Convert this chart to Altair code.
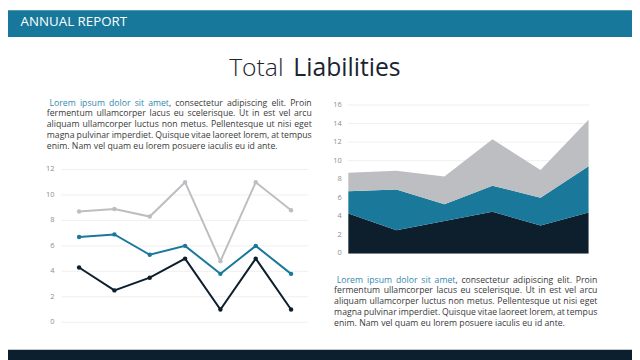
import altair as alt
import pandas as pd

# ---------------- data ----------------
series = ["Series 1", "Series 2", "Series 3"]
series_colors = ["#0D1F2D", "#1A789B", "#BDBEC2"]

line_x = [0, 1, 2, 3, 4, 5, 6]
line_s1 = [4.3, 2.5, 3.5, 5.0, 1.0, 5.0, 1.0]
line_s2 = [6.7, 6.9, 5.3, 6.0, 3.8, 6.0, 3.8]
line_s3 = [8.7, 8.9, 8.3, 11.0, 4.8, 11.0, 8.8]

area_x = [0, 1, 2, 3, 4, 5]
area_s1 = [4.3, 2.5, 3.5, 4.5, 3.0, 4.4]
area_s2 = [2.4, 4.4, 1.8, 2.8, 3.0, 5.0]
area_s3 = [2.0, 2.0, 3.0, 5.0, 3.0, 5.0]

line_ticks = [0, 2, 4, 6, 8, 10, 12]
area_ticks = [0, 2, 4, 6, 8, 10, 12, 14, 16]

header_text = "ANNUAL REPORT"
title_light = "Total"
title_bold = "Liabilities"
para_lead = "Lorem ipsum dolor sit amet"
para_lines = [
    "Lorem ipsum dolor sit amet, consectetur adipiscing elit. Proin",
    "fermentum ullamcorper lacus eu scelerisque. Ut in est vel arcu",
    "aliquam ullamcorper luctus non metus. Pellentesque ut nisi eget",
    "magna pulvinar imperdiet. Quisque vitae laoreet lorem, at tempus",
    "enim. Nam vel quam eu lorem posuere iaculis eu id ante.",
]

# ---------------- helpers ----------------
W, H = 632, 352
FONT = "Open Sans"
TEXT_DARK = "#3A3A3A"
TEAL_TEXT = "#3489AE"
GRID = "#EFEFEF"
TICK = "#8C8C8C"
PFS = 8.8

# approximate Open Sans advance widths (units per 2048 em)
CW = {" ": 532, "a": 1139, "b": 1255, "c": 975, "d": 1255, "e": 1149, "f": 694, "g": 1122,
      "h": 1257, "i": 518, "j": 518, "k": 1075, "l": 518, "m": 1905, "n": 1257, "o": 1237,
      "p": 1255, "q": 1255, "r": 836, "s": 977, "t": 723, "u": 1257, "v": 1026, "w": 1593,
      "x": 1073, "y": 1028, "z": 977, ",": 498, ".": 545, "L": 1100, "P": 1255, "U": 1499,
      "Q": 1599, "N": 1608}


def tw(s):
    return sum(CW.get(c, 1150) for c in s) / 2048 * PFS


def layout(x_left, x_right, y0):
    rows = []
    lead_words = para_lead.split(" ")
    for i, line in enumerate(para_lines):
        y = y0 + 10.95 * i
        xl = x_left + (2.7 if i == 0 else 0)
        words = line.split(" ")
        widths = [tw(w) for w in words]
        last = i == len(para_lines) - 1
        if last:
            gap = tw(" ")
        else:
            gap = (x_right - xl - sum(widths)) / (len(words) - 1)
        x = xl
        for j, (w, wd) in enumerate(zip(words, widths)):
            if i == 0 and j < len(lead_words):
                core = w.rstrip(",")
                rows.append({"text": core, "px": x, "py": y, "c": TEAL_TEXT})
                if core != w:
                    rows.append({"text": w[len(core):], "px": x + tw(core), "py": y, "c": TEXT_DARK})
            else:
                rows.append({"text": w, "px": x, "py": y, "c": TEXT_DARK})
            x += wd + gap
    return pd.DataFrame(rows)


one = pd.DataFrame({"a": [0]})
base = alt.Chart(one)

line_df = pd.DataFrame({
    "x": line_x * 3,
    "v": line_s1 + line_s2 + line_s3,
    "s": [series[0]] * 7 + [series[1]] * 7 + [series[2]] * 7,
})
area_df = pd.DataFrame({
    "x": area_x * 3,
    "v": area_s1 + area_s2 + area_s3,
    "s": [series[0]] * 6 + [series[1]] * 6 + [series[2]] * 6,
    "k": [0] * 6 + [1] * 6 + [2] * 6,
})

color = alt.Color("s:N", scale=alt.Scale(domain=series, range=series_colors), legend=None)

LX = alt.Scale(domain=[0, 6], range=[72, 286.7], nice=False, zero=False)
LY = alt.Scale(domain=[0, 12], range=[316, 161.3], nice=False, zero=False)
AX = alt.Scale(domain=[0, 5], range=[344.7, 588], nice=False, zero=False)
AY = alt.Scale(domain=[0, 16], range=[246.3, 96], nice=False, zero=False)

layers = []

# header / footer bars
layers.append(base.mark_rect(color="#17789C").encode(
    x=alt.value(0), x2=alt.value(W), y=alt.value(0), y2=alt.value(27)))
layers.append(base.mark_rect(color="#0B1F2E").encode(
    x=alt.value(0), x2=alt.value(W), y=alt.value(344), y2=alt.value(W)))
layers.append(base.mark_text(text=header_text, font=FONT, fontSize=13.5, color="white",
                             align="left", baseline="alphabetic").encode(
    x=alt.value(12.7), y=alt.value(16)))

# title
layers.append(base.mark_text(text=title_light, font=FONT, fontSize=25, fontWeight=300,
                             color="#1B2430", align="right", baseline="alphabetic").encode(
    x=alt.value(279), y=alt.value(66.3)))
layers.append(base.mark_text(text=title_bold, font=FONT, fontSize=25, fontWeight=500,
                             color="#1B2430", align="left", baseline="alphabetic").encode(
    x=alt.value(289), y=alt.value(66.3)))

# justified paragraphs
for para_df in (layout(39.3, 307.7, 93.6), layout(330.3, 597, 272.8)):
    layers.append(alt.Chart(para_df).mark_text(font=FONT, fontSize=PFS, align="left",
                                               baseline="middle").encode(
        x=alt.X("px:Q", scale=None), y=alt.Y("py:Q", scale=None),
        color=alt.Color("c:N", scale=None), text="text:N"))

# left line chart: grid + labels
lt = pd.DataFrame({"t": line_ticks})
layers.append(alt.Chart(lt).mark_rule(color=GRID, strokeWidth=1).encode(
    y=alt.Y("t:Q", scale=LY, axis=None), x=alt.value(54), x2=alt.value(304)))
layers.append(alt.Chart(lt).mark_text(font=FONT, fontSize=7.5, color=TICK, align="right",
                                      baseline="middle").encode(
    y=alt.Y("t:Q", scale=LY, axis=None), x=alt.value(47), text="t:Q"))
layers.append(alt.Chart(line_df).mark_line(strokeWidth=2, point=alt.OverlayMarkDef(size=20, filled=True)).encode(
    x=alt.X("x:Q", scale=LX, axis=None),
    y=alt.Y("v:Q", scale=LY, axis=None),
    color=color, detail="s:N"))

# right area chart: grid + labels
at = pd.DataFrame({"t": area_ticks})
layers.append(alt.Chart(at).mark_rule(color=GRID, strokeWidth=1).encode(
    y=alt.Y("t:Q", scale=AY, axis=None), x=alt.value(344), x2=alt.value(589)))
layers.append(alt.Chart(at).mark_text(font=FONT, fontSize=7.5, color=TICK, align="right",
                                      baseline="middle").encode(
    y=alt.Y("t:Q", scale=AY, axis=None), x=alt.value(338), text="t:Q"))
layers.append(alt.Chart(area_df).mark_area(opacity=1).encode(
    x=alt.X("x:Q", scale=AX, axis=None),
    y=alt.Y("v:Q", scale=AY, axis=None, stack="zero"),
    color=color, order=alt.Order("k:Q")))

chart = alt.layer(*layers).resolve_scale(x="independent", y="independent").properties(
    width=W, height=H, autosize=alt.AutoSizeParams(type="none"), padding=0,
    background="white",
).configure_view(stroke=None)

chart.save("out.html", embed_options={"renderer": "svg", "actions": False})
